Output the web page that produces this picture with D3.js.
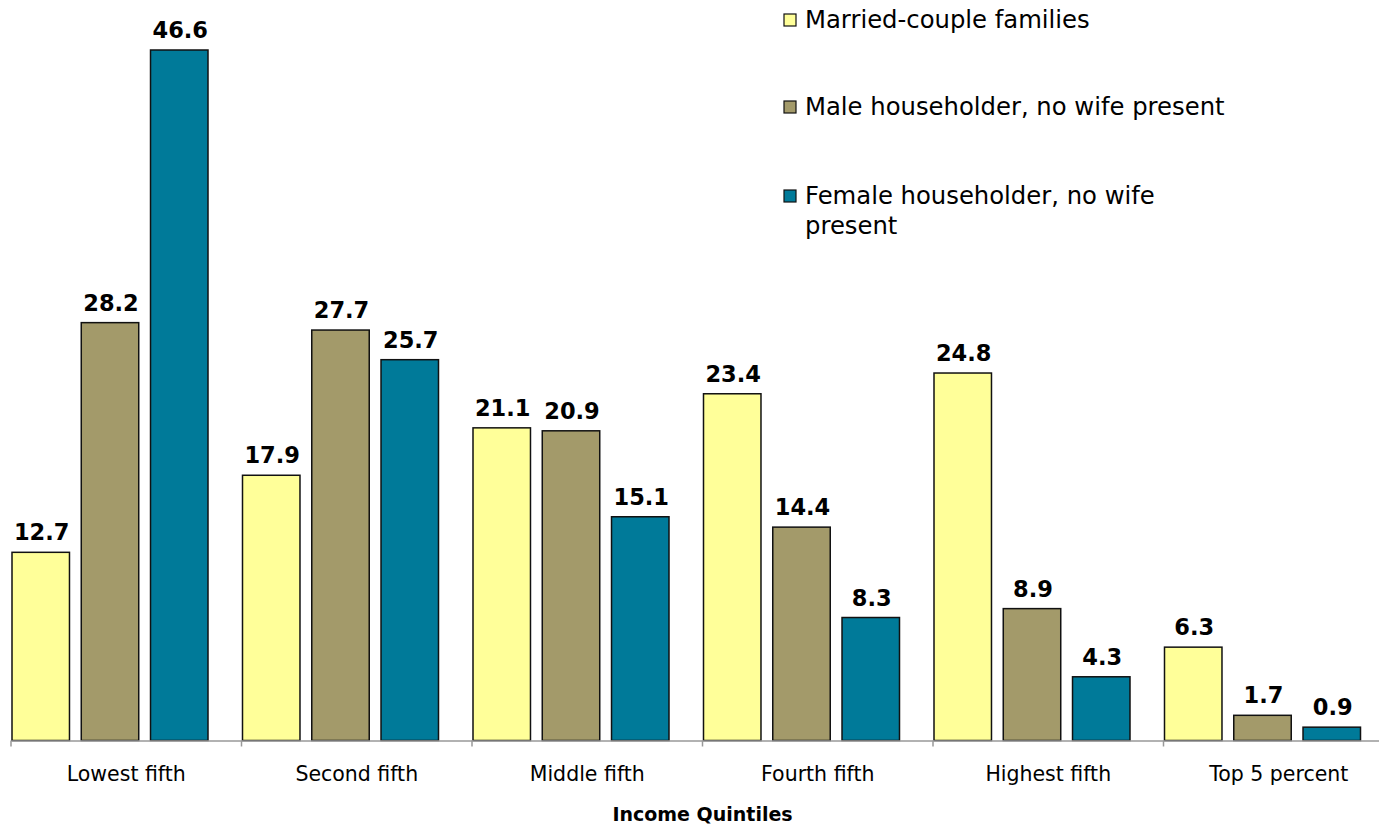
<!DOCTYPE html>
<html><head><meta charset="utf-8">
<script src="https://cdn.jsdelivr.net/npm/d3@7"></script>
<style>body{margin:0;background:#fff}svg{display:block}</style>
</head><body>
<script>
const categories = ["Lowest fifth","Second fifth","Middle fifth","Fourth fifth","Highest fifth","Top 5 percent"];
const seriesNames = ["Married-couple families","Male householder, no wife present","Female householder, no wife present"];
const married = [12.7,17.9,21.1,23.4,24.8,6.3];
const male = [28.2,27.7,20.9,14.4,8.9,1.7];
const female = [46.6,25.7,15.1,8.3,4.3,0.9];
const colors = ["#FFFF99","#A39A6A","#007A99"];
const xTitle = "Income Quintiles";

const W=1379,H=825;
const svg=d3.select("body").append("svg").attr("width",W).attr("height",H);
const font="'DejaVu Sans', sans-serif";
const baseY=740.5;
const x0=d3.scaleBand().domain(categories).range([11,1394]).padding(0);
const x1=d3.scaleBand().domain([0,1,2]).range([1,197]).paddingInner(0.17).paddingOuter(0);
const y=d3.scaleLinear().domain([0,46.6]).range([baseY,50]);
const seriesVals=[married,male,female];

const g=svg.append("g");
categories.forEach((c,i)=>{
  const gg=g.append("g").attr("transform",`translate(${x0(c)},0)`);
  seriesVals.forEach((vals,s)=>{
    const v=vals[i];
    gg.append("rect").attr("x",x1(s)).attr("y",y(v)).attr("width",x1.bandwidth()).attr("height",baseY-y(v))
      .attr("fill",colors[s]).attr("stroke","#111").attr("stroke-width",1.5);
    gg.append("text").attr("x",x1(s)+x1.bandwidth()/2+1).attr("y",y(v)-12)
      .attr("text-anchor","middle").attr("font-family",font).attr("font-weight","bold").attr("font-size",22.5)
      .attr("fill","#000").text(v.toFixed(1));
  });
});

const axis=d3.axisBottom(x0).tickSize(0).tickPadding(29);
const ax=svg.append("g").attr("transform",`translate(0,${baseY})`).call(axis);
ax.select(".domain").attr("stroke","#999").attr("stroke-width",1.5);
ax.selectAll(".tick text").attr("font-family",font).attr("font-size",20.5).attr("fill","#000").attr("dy","0.55em");
ax.selectAll(".btick").data(categories).enter().append("line").attr("class","btick")
  .attr("x1",d=>x0(d)).attr("x2",d=>x0(d)).attr("y1",0).attr("y2",6).attr("stroke","#999").attr("stroke-width",1.5);

svg.append("text").attr("x",(11+1394)/2).attr("y",821).attr("text-anchor","middle")
  .attr("font-family",font).attr("font-weight","bold").attr("font-size",19).text(xTitle);

const legRows=[{y:20,lines:[seriesNames[0]]},{y:107,lines:[seriesNames[1]]},{y:196,lines:["Female householder, no wife","present"]}];
legRows.forEach((r,i)=>{
  svg.append("rect").attr("x",784).attr("y",r.y-6).attr("width",12).attr("height",12)
    .attr("fill",colors[i]).attr("stroke","#111").attr("stroke-width",1.2);
  const t=svg.append("text").attr("font-family",font).attr("font-size",24.3).attr("fill","#000");
  r.lines.forEach((ln,j)=>t.append("tspan").attr("x",805).attr("y",r.y+8+j*30).text(ln));
});
</script>
</body></html>
